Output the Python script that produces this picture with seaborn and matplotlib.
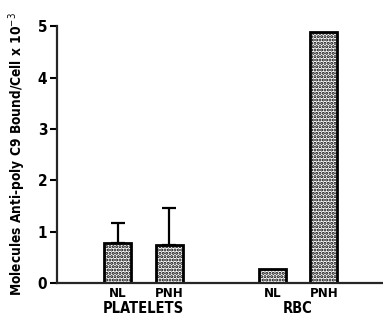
import matplotlib
matplotlib.use("Agg")
import matplotlib.pyplot as plt
import seaborn as sns

# data
cell_types = ["NL", "PNH", "NL", "PNH"]
groups = ["PLATELETS", "RBC"]
positions = [1, 2, 4, 5]
values = [0.78, 0.73, 0.27, 4.88]
errors_up = [0.38, 0.72, 0.0, 0.0]

sns.set_style("white")
plt.rcParams["font.family"] = ["DejaVu Sans"]
plt.rcParams["font.stretch"] = "condensed"
plt.rcParams["text.color"] = "black"
plt.rcParams["axes.labelcolor"] = "black"
plt.rcParams["xtick.color"] = "black"
plt.rcParams["ytick.color"] = "black"
plt.rcParams["hatch.linewidth"] = 1.5

fig = plt.figure(figsize=(3.83, 3.19), dpi=100)
ax = fig.add_axes([0.149, 0.113, 0.851, 0.805])

sns.barplot(x=positions, y=values, native_scale=True, width=0.52,
            color="white", edgecolor="black", linewidth=2, hatch=".....",
            errorbar=None, ax=ax)

# upward-only error bars
err_pos = [p for p, e in zip(positions, errors_up) if e > 0]
err_val = [v for v, e in zip(values, errors_up) if e > 0]
err_up = [e for e in errors_up if e > 0]
ax.errorbar(err_pos, err_val, yerr=[[0] * len(err_up), err_up], fmt="none",
            ecolor="black", elinewidth=1.6, capsize=5, capthick=1.6)

ax.set_xlim(-0.18, 6.15)
ax.set_ylim(0, 5)
ax.set_yticks([0, 1, 2, 3, 4, 5])
ax.set_yticklabels(["0", "1", "2", "3", "4", "5"], fontsize=11, fontweight="bold")
ax.set_xticks(positions)
ax.set_xticklabels(cell_types, fontsize=9.5, fontweight="bold")
ax.tick_params(axis="x", length=0, pad=3)
ax.tick_params(axis="y", length=5, width=1.5, direction="out", left=True, pad=2)

for s in ["top", "right"]:
    ax.spines[s].set_visible(False)
ax.spines["left"].set_linewidth(1.6)
ax.spines["bottom"].set_linewidth(1.6)

# group labels
ax.text(1.5, -0.59, groups[0], ha="center", va="baseline", fontsize=10.5,
        fontweight="bold", clip_on=False)
ax.text(4.5, -0.59, groups[1], ha="center", va="baseline", fontsize=10.5,
        fontweight="bold", clip_on=False)

ax.set_ylabel("Molecules Anti-poly C9 Bound/Cell x 10$^{-3}$", fontsize=9.8,
              fontweight="bold", labelpad=7)

fig.savefig("out.png", dpi=100)
